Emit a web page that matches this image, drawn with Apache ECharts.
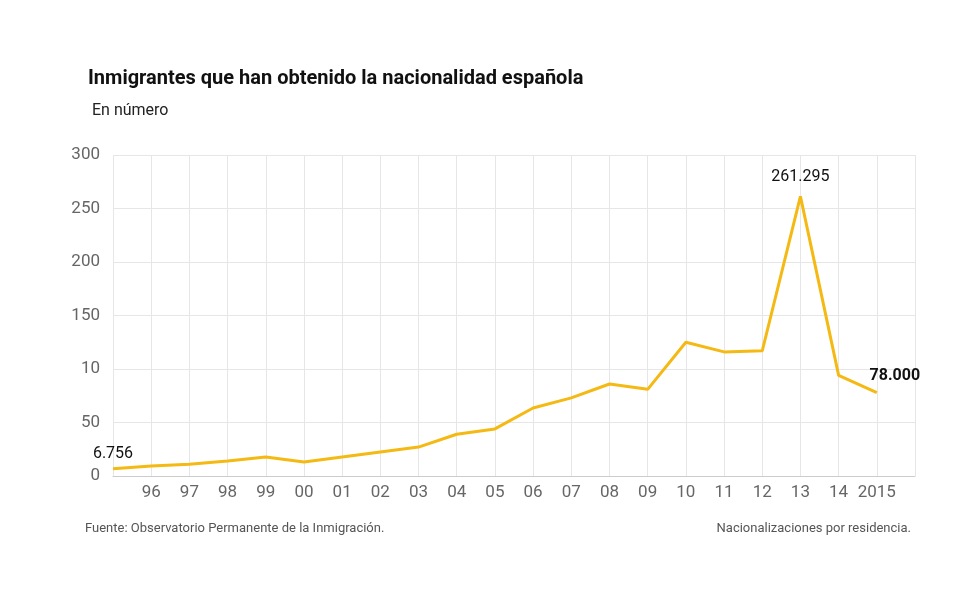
<!DOCTYPE html>
<html><head><meta charset="utf-8">
<script src="https://cdn.jsdelivr.net/npm/echarts@6/dist/echarts.min.js"></script>
<style>body{margin:0}#c{width:980px;height:598px}</style></head>
<body><div id="c"></div>
<script>
const years=[1995,1996,1997,1998,1999,2000,2001,2002,2003,2004,2005,2006,2007,2008,2009,2010,2011,2012,2013,2014,2015];
const values=[6.756,9.3,11,14,17.8,13,17.8,22.4,27,39,44,63.5,73,86,81,125,116,117,261.295,94,78];
const xLabels={1996:'96',1997:'97',1998:'98',1999:'99',2000:'00',2001:'01',2002:'02',2003:'03',2004:'04',2005:'05',2006:'06',2007:'07',2008:'08',2009:'09',2010:'10',2011:'11',2012:'12',2013:'13',2014:'14',2015:'2015'};
const yLabels={0:'0',50:'50',100:'10',150:'150',200:'200',250:'250',300:'300'};
const ch=echarts.init(document.getElementById('c'));
const F='Roboto, "Noto Sans", sans-serif';
ch.setOption({
 animation:false,
 title:[
  {text:'Inmigrantes que han obtenido la nacionalidad española',left:83,top:64,textStyle:{fontFamily:F,fontSize:20,fontWeight:'bold',color:'#111'}},
  {text:'En número',left:87,top:98,textStyle:{fontFamily:F,fontSize:16,fontWeight:'normal',color:'#222'}},
  {text:'Fuente: Observatorio Permanente de la Inmigración.',left:80,top:517,textStyle:{fontFamily:F,fontSize:13,fontWeight:'normal',color:'#555'}},
  {text:'Nacionalizaciones por residencia.',right:64,top:517,textStyle:{fontFamily:F,fontSize:13,fontWeight:'normal',color:'#555'}}
 ],
 grid:{left:113,right:65,top:155,bottom:122},
 xAxis:{type:'value',min:1995,max:2016,interval:1,
  axisLine:{show:true,lineStyle:{color:'#ccc'}},axisTick:{show:false},
  splitLine:{show:true,lineStyle:{color:'#e6e6e6'}},
  axisLabel:{fontFamily:F,fontSize:17,color:'#666',margin:8,formatter:v=>xLabels[v]||''}},
 yAxis:{type:'value',min:0,max:300,interval:50,
  axisLine:{show:false},axisTick:{show:false},
  splitLine:{show:true,lineStyle:{color:'#e6e6e6'}},
  axisLabel:{fontFamily:F,fontSize:17,color:'#666',margin:13,formatter:v=>yLabels[v]}},
 series:[{type:'line',data:years.map((y,i)=>[y,values[i]]),symbol:'none',
  lineStyle:{color:'#f5b914',width:3},
  markPoint:{symbol:'circle',symbolSize:0,data:[
   {coord:[1995,6.756],label:{show:true,formatter:'6.756',position:'top',offset:[0,-2],fontFamily:F,fontSize:16,color:'#111'}},
   {coord:[2013,261.295],label:{show:true,formatter:'261.295',position:'top',offset:[0,-6],fontFamily:F,fontSize:16,color:'#111'}},
   {coord:[2015,78],label:{show:true,formatter:'78.000',position:'top',offset:[18,-4],fontFamily:F,fontSize:16,fontWeight:'bold',color:'#111'}}
  ]}}]
});
</script></body></html>
